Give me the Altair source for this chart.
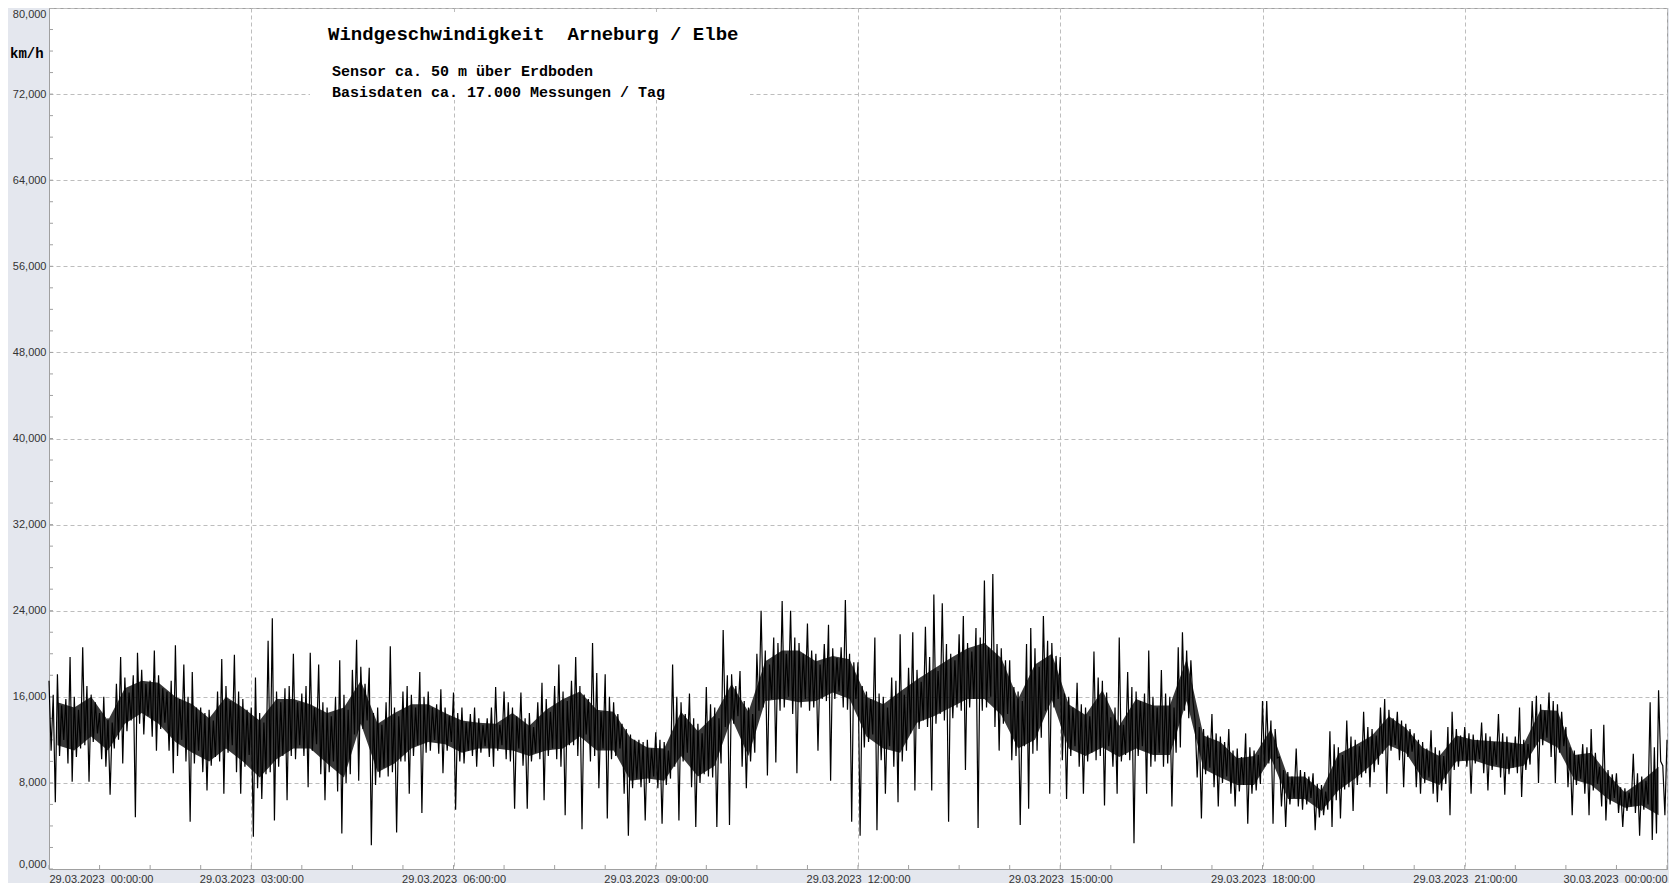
import altair as alt
import pandas as pd

# ---- wind speed trace (km/h), 8 readings per 15 minutes, alternating peak / trough ----
block_00_03 = [
    17.5, 11.0, 16.2, 6.2, 18.1, 10.5, 15.2, 12.0,
    15.8, 9.8, 19.7, 8.1, 16.0, 10.4, 14.8, 11.2,
    20.6, 11.5, 17.0, 8.1, 16.2, 11.8, 15.5, 12.6,
    14.5, 10.2, 16.0, 9.5, 14.0, 6.9, 13.6, 11.2,
    17.2, 12.0, 19.7, 9.8, 17.8, 12.8, 16.4, 13.8,
    18.0, 4.8, 20.1, 13.5, 18.5, 12.5, 17.2, 14.2,
    17.5, 12.3, 20.3, 11.0, 18.0, 13.0, 16.8, 13.6,
    16.5, 11.0, 17.5, 8.9, 20.8, 10.5, 15.8, 12.0,
    19.0, 10.0, 16.0, 4.4, 18.3, 9.8, 15.0, 11.0,
    15.0, 9.0, 14.5, 7.3, 14.8, 9.6, 13.8, 10.4,
    16.5, 10.0, 19.5, 7.0, 17.0, 10.8, 15.6, 11.5,
    19.9, 9.0, 16.5, 7.0, 15.8, 9.5, 14.8, 10.6,
]
block_03_06 = [
    15.0, 3.0, 17.8, 7.5, 14.5, 6.5, 13.6, 8.8,
    21.2, 9.0, 23.3, 4.5, 16.5, 9.5, 15.5, 10.5,
    16.8, 6.4, 17.0, 10.5, 20.0, 10.2, 15.5, 11.5,
    16.3, 10.5, 17.0, 7.6, 20.1, 11.0, 15.0, 11.6,
    19.0, 8.8, 15.5, 6.4, 15.0, 9.0, 14.2, 10.0,
    16.0, 7.2, 19.4, 3.3, 16.2, 8.0, 14.8, 8.8,
    18.5, 12.5, 21.3, 8.2, 18.8, 13.0, 17.2, 13.8,
    18.7, 2.2, 14.5, 7.8, 15.0, 8.5, 13.4, 9.4,
    15.5, 8.6, 20.7, 9.0, 15.0, 3.4, 14.2, 10.0,
    16.5, 10.0, 17.0, 7.0, 16.2, 10.5, 15.0, 11.5,
    18.3, 5.2, 16.0, 10.8, 16.5, 11.0, 15.0, 12.0,
    15.3, 10.7, 16.7, 8.9, 15.0, 11.0, 14.2, 11.8,
]
block_06_09 = [
    16.4, 5.5, 14.5, 10.0, 15.0, 9.8, 13.6, 11.0,
    14.4, 10.5, 15.0, 9.5, 14.0, 10.8, 13.4, 11.4,
    14.0, 10.4, 15.0, 9.5, 16.9, 11.0, 13.4, 11.5,
    16.5, 10.2, 15.5, 10.0, 15.0, 5.6, 14.2, 11.2,
    16.4, 9.6, 14.0, 5.6, 14.5, 10.0, 13.2, 10.8,
    15.5, 10.2, 17.3, 6.4, 15.8, 10.5, 14.6, 11.2,
    17.0, 10.2, 19.0, 9.5, 16.5, 5.0, 15.6, 11.5,
    17.5, 11.5, 19.7, 10.5, 17.0, 3.7, 16.2, 12.5,
    15.8, 10.0, 21.0, 10.5, 18.2, 7.5, 14.6, 11.2,
    18.1, 4.7, 16.0, 10.2, 15.5, 10.5, 14.4, 11.2,
    13.5, 7.0, 13.0, 3.1, 12.5, 7.5, 12.0, 8.4,
    12.0, 7.6, 11.8, 4.5, 12.0, 8.0, 11.2, 8.6,
]
block_09_12 = [
    12.7, 7.5, 12.0, 4.2, 11.8, 7.8, 11.0, 8.4,
    19.0, 9.5, 16.0, 4.5, 15.5, 10.0, 14.4, 10.8,
    16.3, 7.6, 14.0, 3.9, 13.5, 8.0, 12.6, 8.8,
    16.9, 8.6, 15.3, 8.5, 15.0, 3.9, 14.0, 9.8,
    22.2, 13.2, 18.0, 4.1, 18.1, 13.5, 17.0, 14.2,
    18.4, 9.5, 15.6, 7.5, 15.0, 10.0, 14.4, 10.8,
    20.0, 14.7, 24.0, 15.0, 20.3, 8.7, 19.0, 15.8,
    21.5, 9.9, 21.0, 14.7, 24.9, 15.0, 20.0, 16.0,
    24.0, 14.4, 21.5, 8.9, 21.0, 15.0, 20.0, 15.8,
    22.8, 14.7, 20.3, 15.0, 20.0, 11.0, 19.0, 15.8,
    20.9, 15.6, 22.7, 8.2, 20.5, 15.8, 19.6, 16.5,
    20.6, 15.0, 25.0, 14.8, 20.0, 4.4, 19.2, 15.8,
]
block_12_15 = [
    19.2, 3.1, 17.0, 11.3, 16.5, 11.8, 15.8, 12.5,
    21.5, 3.6, 16.3, 10.1, 16.0, 7.0, 15.0, 11.4,
    17.8, 9.5, 17.5, 6.2, 21.8, 10.0, 16.2, 11.0,
    18.7, 12.6, 22.0, 7.3, 18.5, 13.0, 17.4, 13.8,
    22.5, 13.2, 19.7, 7.3, 25.5, 13.5, 18.4, 14.4,
    24.7, 13.8, 20.9, 4.4, 20.0, 14.0, 19.4, 15.0,
    21.8, 14.7, 23.5, 9.2, 21.0, 15.0, 20.2, 15.8,
    22.4, 3.8, 21.5, 14.7, 26.8, 15.0, 20.6, 16.0,
    27.4, 13.2, 20.9, 11.0, 20.5, 13.5, 19.4, 14.4,
    19.4, 10.1, 16.9, 10.5, 16.5, 4.1, 15.6, 11.4,
    20.9, 5.6, 22.4, 10.7, 20.5, 11.0, 18.8, 12.2,
    23.5, 14.7, 21.2, 7.0, 21.0, 15.0, 19.8, 15.8,
]
block_15_18 = [
    19.7, 10.1, 16.3, 6.5, 16.0, 10.5, 15.0, 11.4,
    17.3, 9.5, 15.3, 7.0, 15.0, 10.0, 14.2, 10.8,
    20.2, 10.1, 17.8, 10.5, 17.5, 5.9, 16.4, 11.4,
    14.1, 9.5, 15.0, 7.0, 21.5, 10.0, 13.4, 10.6,
    18.3, 10.1, 16.9, 2.4, 16.5, 10.5, 15.6, 11.4,
    16.3, 7.0, 20.3, 9.5, 16.0, 10.0, 15.0, 10.8,
    18.5, 9.5, 16.3, 9.8, 16.0, 5.8, 15.0, 10.8,
    20.6, 11.3, 22.0, 14.7, 20.3, 14.0, 19.4, 15.6,
    13.8, 8.5, 13.2, 4.7, 13.0, 8.8, 12.4, 9.4,
    14.4, 7.6, 12.6, 5.8, 12.3, 8.0, 11.8, 8.6,
    13.0, 7.0, 11.0, 5.8, 11.2, 7.2, 10.4, 7.8,
    12.6, 4.2, 11.3, 7.0, 11.0, 7.3, 10.6, 7.9,
]
block_18_21 = [
    15.6, 9.5, 15.6, 9.8, 13.8, 4.2, 13.0, 10.3,
    10.4, 5.8, 9.2, 3.9, 9.0, 6.0, 8.6, 6.6,
    11.2, 5.8, 9.2, 5.5, 9.0, 6.0, 8.6, 6.6,
    8.9, 3.6, 7.9, 4.8, 7.8, 5.0, 7.2, 5.5,
    12.8, 3.9, 11.6, 6.4, 11.3, 4.7, 10.6, 7.4,
    13.8, 7.6, 12.3, 5.4, 12.0, 7.8, 11.4, 8.5,
    14.6, 8.9, 13.2, 7.6, 13.0, 9.0, 12.4, 9.7,
    15.0, 10.7, 15.8, 7.0, 14.8, 11.0, 14.0, 11.5,
    14.6, 10.1, 13.8, 7.6, 13.5, 10.4, 13.0, 10.9,
    12.6, 7.6, 12.0, 7.0, 11.8, 8.0, 11.2, 8.5,
    12.9, 7.0, 11.3, 6.2, 11.0, 7.3, 10.5, 7.9,
    13.2, 5.0, 14.6, 9.2, 13.0, 9.5, 12.4, 10.1,
]
block_21_24 = [
    13.2, 9.5, 12.6, 7.0, 12.5, 9.8, 12.0, 10.2,
    13.6, 8.9, 12.6, 7.3, 12.3, 9.2, 11.8, 9.7,
    14.4, 8.5, 12.6, 6.9, 12.3, 8.8, 11.7, 9.4,
    12.3, 8.9, 15.0, 6.7, 12.0, 9.2, 11.6, 9.7,
    15.6, 11.3, 16.1, 8.0, 15.3, 11.5, 14.7, 12.2,
    16.4, 10.4, 15.6, 8.0, 15.3, 10.8, 14.6, 11.4,
    13.2, 7.6, 11.3, 5.0, 11.0, 7.8, 10.6, 8.4,
    11.6, 7.0, 11.3, 5.0, 13.0, 7.3, 10.8, 7.9,
    9.5, 5.8, 13.4, 4.5, 9.2, 6.0, 8.8, 6.6,
    8.9, 5.2, 7.6, 3.9, 7.5, 5.4, 7.1, 5.8,
    10.7, 5.2, 8.9, 3.1, 8.6, 5.5, 8.2, 6.0,
    15.5, 2.7, 11.3, 3.3, 16.6, 10.0, 9.6, 5.0,
]
last_value = [12.0]

# ---- dense core of the trace per 15 minutes (km/h) ----
band_hi = [
    15.5, 15.0, 16.0, 13.8, 16.8, 17.5, 17.3, 16.0, 15.3, 14.0, 16.0, 15.0,
    13.8, 15.8, 15.8, 15.3, 14.5, 15.0, 17.5, 13.5, 14.5, 15.3, 15.3, 14.5,
    13.8, 13.6, 13.5, 14.5, 13.3, 14.8, 15.8, 16.5, 14.8, 14.6, 12.2, 11.3,
    11.2, 14.6, 12.8, 14.3, 17.2, 14.6, 19.3, 20.3, 20.3, 19.3, 19.8, 19.5,
    16.0, 15.3, 16.5, 17.6, 18.6, 19.6, 20.5, 21.0, 19.6, 15.8, 19.0, 20.0,
    15.3, 14.3, 16.6, 13.3, 15.8, 15.2, 15.2, 19.5, 12.4, 11.8, 10.3, 10.5,
    13.0, 8.6, 8.6, 7.3, 10.7, 11.5, 12.4, 14.2, 13.1, 11.3, 10.5, 12.4,
    12.0, 11.9, 11.8, 11.6, 14.8, 14.7, 10.6, 10.8, 8.8, 7.1, 8.2, 9.5,
]
band_lo = [
    11.5, 11.0, 12.3, 11.0, 13.5, 14.5, 13.5, 11.8, 10.8, 10.0, 11.2, 10.0,
    8.5, 10.2, 11.2, 11.2, 9.8, 8.5, 13.5, 9.0, 9.8, 11.2, 11.8, 11.6,
    10.8, 11.2, 11.2, 11.0, 10.5, 11.0, 11.2, 12.3, 11.0, 11.0, 8.2, 8.4,
    8.2, 10.5, 8.6, 9.6, 14.0, 10.5, 15.6, 15.8, 15.5, 15.6, 16.4, 15.8,
    12.3, 11.2, 10.8, 13.6, 14.2, 15.0, 15.8, 15.8, 14.3, 11.2, 12.0, 15.7,
    11.2, 10.5, 11.3, 10.4, 11.2, 10.6, 10.6, 15.6, 9.3, 8.5, 7.8, 7.8,
    10.3, 6.5, 6.5, 5.4, 7.3, 8.4, 9.7, 11.5, 10.8, 8.4, 7.8, 10.0,
    10.1, 9.6, 9.3, 9.6, 12.1, 11.3, 8.3, 7.8, 6.5, 5.7, 5.9, 5.0,
]

y_label_values = [0, 8, 16, 24, 32, 40, 48, 56, 64, 72, 80]
y_minor_values = list(range(0, 81, 2))
x_label_hours = [0, 3, 6, 9, 12, 15, 18, 21, 24]
x_minor_minutes = list(range(0, 1441, 45))

title_text = "Windgeschwindigkeit\u00a0 Arneburg / Elbe"
sub1_text = "Sensor ca. 50 m \u00fcber Erdboden"
sub2_text = "Basisdaten ca. 17.000 Messungen / Tag"
unit_text = "km/h"

# ---- tables ----
start = pd.Timestamp("2023-03-29 00:00:00")
trace = (block_00_03 + block_03_06 + block_06_09 + block_09_12 +
         block_12_15 + block_15_18 + block_18_21 + block_21_24 + last_value)
zig = pd.DataFrame({
    "t": [start + pd.Timedelta(seconds=112.5 * i) for i in range(len(trace))],
    "v": trace,
})
band = pd.DataFrame({
    "t": [start + pd.Timedelta(minutes=7.5 + 15 * i) for i in range(len(band_hi))],
    "lo": band_lo,
    "hi": band_hi,
})
xminor = pd.DataFrame({"t": [start + pd.Timedelta(minutes=m) for m in x_minor_minutes]})
yminor = pd.DataFrame({"v": y_minor_values})


def dt(minutes):
    d = 29 + minutes // 1440
    m = minutes % 1440
    return alt.DateTime(year=2023, month=3, date=int(d), hours=int(m // 60), minutes=int(m % 60))


W, H = 1618, 861
x_scale = alt.Scale(domain=[dt(0), dt(1440)], nice=False)
y_scale = alt.Scale(domain=[0, 80], nice=False)

GRID = "#BDBDBD"
FRAME = "#A0A0A0"

main_x = alt.Axis(
    values=[dt(h * 60) for h in x_label_hours],
    labelExpr="timeFormat(datum.value, '%d.%m.%Y\u00a0 %H:%M:%S')",
    labelFlush=True, labelFont="Liberation Sans", labelFontSize=11,
    labelColor="#333333", labelPadding=4, ticks=False,
    grid=True, gridColor=GRID, gridDash=[4, 3], gridWidth=1,
    domainColor=FRAME, title=None,
)
main_y = alt.Axis(
    values=y_label_values,
    labelExpr="replace(format(datum.value, '.3f'), '.', ',')",
    labelFlush=True, labelFont="Liberation Sans", labelFontSize=11,
    labelColor="#333333", labelPadding=3, ticks=False,
    grid=True, gridColor=GRID, gridDash=[4, 3], gridWidth=1,
    domainColor=FRAME, title=None,
)

core = alt.Chart(band).mark_area(color="black", opacity=0.78).encode(
    x=alt.X("t:T", scale=x_scale, axis=main_x),
    y=alt.Y("lo:Q", scale=y_scale, axis=main_y),
    y2="hi:Q",
)
line = alt.Chart(zig).mark_line(color="black", strokeWidth=1.2).encode(
    x=alt.X("t:T", scale=x_scale),
    y=alt.Y("v:Q", scale=y_scale),
)

# small inward ticks (every 45 min / every 2 km/h)
xticks = alt.Chart(xminor).mark_rule(color=FRAME, strokeWidth=1).encode(
    x=alt.X("t:T", scale=x_scale), y=alt.value(H - 4), y2=alt.value(H)
)
yticks = alt.Chart(yminor).mark_rule(color=FRAME, strokeWidth=1).encode(
    y=alt.Y("v:Q", scale=y_scale), x=alt.value(0), x2=alt.value(4)
)

box = alt.Chart(pd.DataFrame({"k": [0]})).mark_rect(fill="white").encode(
    x=alt.value(261), x2=alt.value(701), y=alt.value(4), y2=alt.value(92)
)


def label(txt, x, y, size):
    return alt.Chart(pd.DataFrame({"s": [txt]})).mark_text(
        align="left", baseline="middle", font="Liberation Mono",
        fontSize=size, fontWeight="bold", color="black",
    ).encode(x=alt.value(x), y=alt.value(y), text="s:N")


chart = alt.layer(
    core, xticks, yticks, line, box,
    label(title_text, 279, 26, 19),
    label(sub1_text, 283, 63, 15),
    label(sub2_text, 283, 84, 15),
    label(unit_text, -39, 46, 14),
).properties(
    width=W, height=H,
    autosize=alt.AutoSizeParams(type="none"),
    padding={"left": 41, "top": 0, "right": 2, "bottom": 14},
    background="#E4E7EE",
).configure_view(stroke=FRAME, fill="white")

chart.save("out.html", embed_options={"renderer": "svg", "actions": False})
